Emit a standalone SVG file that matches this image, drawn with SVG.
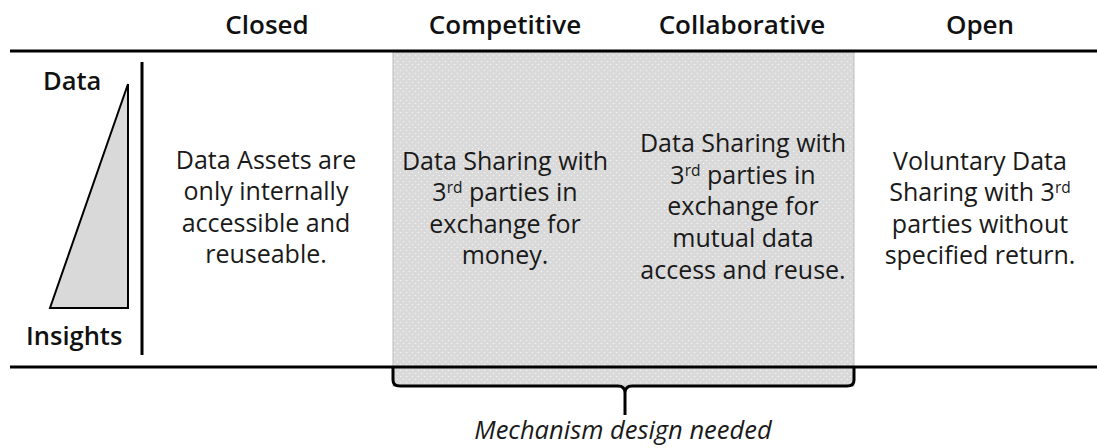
<svg xmlns="http://www.w3.org/2000/svg" width="1097" height="448" viewBox="0 0 1097 448">
  <style>
    .hdr { font-family: "Open Sans", "Noto Sans", sans-serif; font-weight: 600; font-size: 26px; fill: #111; text-anchor: middle; }
    .body { font-family: "Open Sans", "Noto Sans", sans-serif; font-size: 25px; fill: #1a1a1a; text-anchor: middle; }
    .axis { font-family: "Open Sans", "Noto Sans", sans-serif; font-weight: 600; font-size: 25.5px; fill: #111; }
    .note { font-family: "Open Sans", "Noto Sans", sans-serif; font-style: italic; font-size: 25.5px; fill: #1a1a1a; text-anchor: middle; }
    .rule { stroke: #000; stroke-width: 3; fill: none; }
    .sup { font-size: 15.5px; }
  </style>
  <defs>
    <pattern id="dots" width="6" height="6" patternUnits="userSpaceOnUse">
      <rect width="6" height="6" fill="#d9d9d9"/>
      <circle cx="1.5" cy="1.5" r="0.8" fill="#f2f2f2"/>
      <circle cx="4.5" cy="4.5" r="0.8" fill="#f2f2f2"/>
    </pattern>
  </defs>

  <rect width="1097" height="448" fill="#ffffff"/>

  <!-- shaded band spanning the competitive and collaborative columns -->
  <g id="shaded-band">
    <rect x="393" y="52" width="461" height="334" fill="url(#dots)" stroke="#bdbdbd" stroke-width="1"/>
  </g>

  <!-- table rules, axis line and brace -->
  <g id="connectors">
    <line class="rule" x1="10" y1="51" x2="1097" y2="51"/>
    <line class="rule" x1="10" y1="367" x2="1097" y2="367"/>
    <line class="rule" x1="142" y1="62" x2="142" y2="355"/>
    <path class="rule" stroke-width="2.5" d="M393,366 V380 Q393,386 400,386 H618 Q625,386 625,393 V415 M625,393 Q625,386 632,386 H847 Q854,386 854,380 V366"/>
  </g>

  <!-- column headers -->
  <g id="headers">
    <text class="hdr" x="267" y="34">Closed</text>
    <text class="hdr" x="505" y="34">Competitive</text>
    <text class="hdr" x="742" y="34">Collaborative</text>
    <text class="hdr" x="980" y="34">Open</text>
  </g>

  <!-- data-to-insights axis -->
  <g id="axis">
    <text class="axis" x="43" y="90">Data</text>
    <polygon points="128,84 128,308 50,308" fill="#d9d9d9" stroke="#000" stroke-width="2" stroke-linejoin="miter"/>
    <text class="axis" x="26" y="345">Insights</text>
  </g>

  <g id="col-closed">
    <text class="body" x="266" y="169">Data Assets are</text>
    <text class="body" x="266" y="200">only internally</text>
    <text class="body" x="266" y="232">accessible and</text>
    <text class="body" x="266" y="263">reuseable.</text>
  </g>

  <g id="col-competitive">
    <text class="body" x="505" y="170">Data Sharing with</text>
    <text class="body" x="505" y="201">3<tspan class="sup" dy="-8.5">rd</tspan><tspan dy="8.5"> parties in</tspan></text>
    <text class="body" x="505" y="233">exchange for</text>
    <text class="body" x="505" y="264">money.</text>
  </g>

  <g id="col-collaborative">
    <text class="body" x="743" y="152">Data Sharing with</text>
    <text class="body" x="743" y="184">3<tspan class="sup" dy="-8.5">rd</tspan><tspan dy="8.5"> parties in</tspan></text>
    <text class="body" x="743" y="215">exchange for</text>
    <text class="body" x="743" y="247">mutual data</text>
    <text class="body" x="743" y="279">access and reuse.</text>
  </g>

  <g id="col-open">
    <text class="body" x="980" y="170">Voluntary Data</text>
    <text class="body" x="980" y="201">Sharing with 3<tspan class="sup" dy="-8.5">rd</tspan></text>
    <text class="body" x="980" y="233">parties without</text>
    <text class="body" x="980" y="264">specified return.</text>
  </g>

  <g id="mechanism-note">
    <text class="note" x="623" y="439">Mechanism design needed</text>
  </g>
</svg>
